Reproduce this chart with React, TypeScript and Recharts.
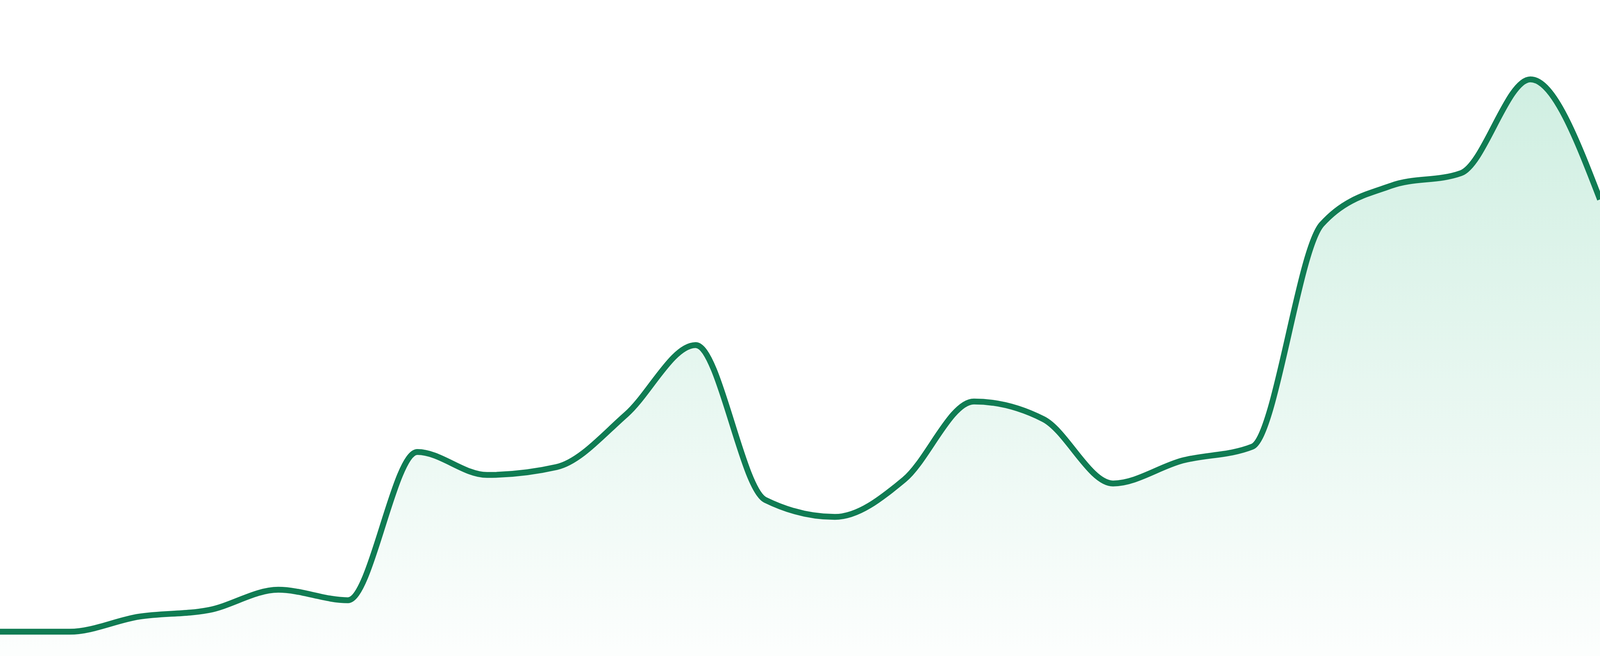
import React from 'react'
import { AreaChart, Area, XAxis, YAxis } from 'recharts'

// 24 evenly spaced samples
const periods = [
  'P01', 'P02', 'P03', 'P04', 'P05', 'P06', 'P07', 'P08',
  'P09', 'P10', 'P11', 'P12', 'P13', 'P14', 'P15', 'P16',
  'P17', 'P18', 'P19', 'P20', 'P21', 'P22', 'P23', 'P24',
]

const values = [
  3.7, 3.7, 6.0, 7.0, 10.1, 8.5, 31.1, 27.6,
  28.8, 36.8, 47.4, 23.8, 21.2, 26.9, 38.8, 36.1,
  26.3, 29.8, 31.9, 65.8, 71.7, 73.6, 87.9, 69.6,
]

const yDomain = [0, 100]

const data = periods.map((p, i) => ({ period: p, value: values[i] }))

// the sparkline spans the whole window edge to edge
const CHART_W = typeof window !== 'undefined' && window.innerWidth ? window.innerWidth : 4800
const CHART_H = 1680

export default function App() {
  return (
    <div style={{ position: 'absolute', left: 0, top: 0, background: '#fff' }}>
      <AreaChart
        width={CHART_W}
        height={CHART_H}
        data={data}
        margin={{ top: 0, right: 0, bottom: 0, left: 0 }}
      >
        <defs>
          <linearGradient id="sparkFill" x1="0" y1="0" x2="0" y2="1">
            <stop offset="0%" stopColor="#1db273" stopOpacity={0.35} />
            <stop offset="100%" stopColor="#1db273" stopOpacity={0.02} />
          </linearGradient>
        </defs>
        <XAxis dataKey="period" hide />
        <YAxis hide domain={yDomain} />
        <Area
          type="monotone"
          dataKey="value"
          stroke="#107c53"
          strokeWidth={15}
          fill="url(#sparkFill)"
          dot={false}
          activeDot={false}
          isAnimationActive={false}
        />
      </AreaChart>
    </div>
  )
}
